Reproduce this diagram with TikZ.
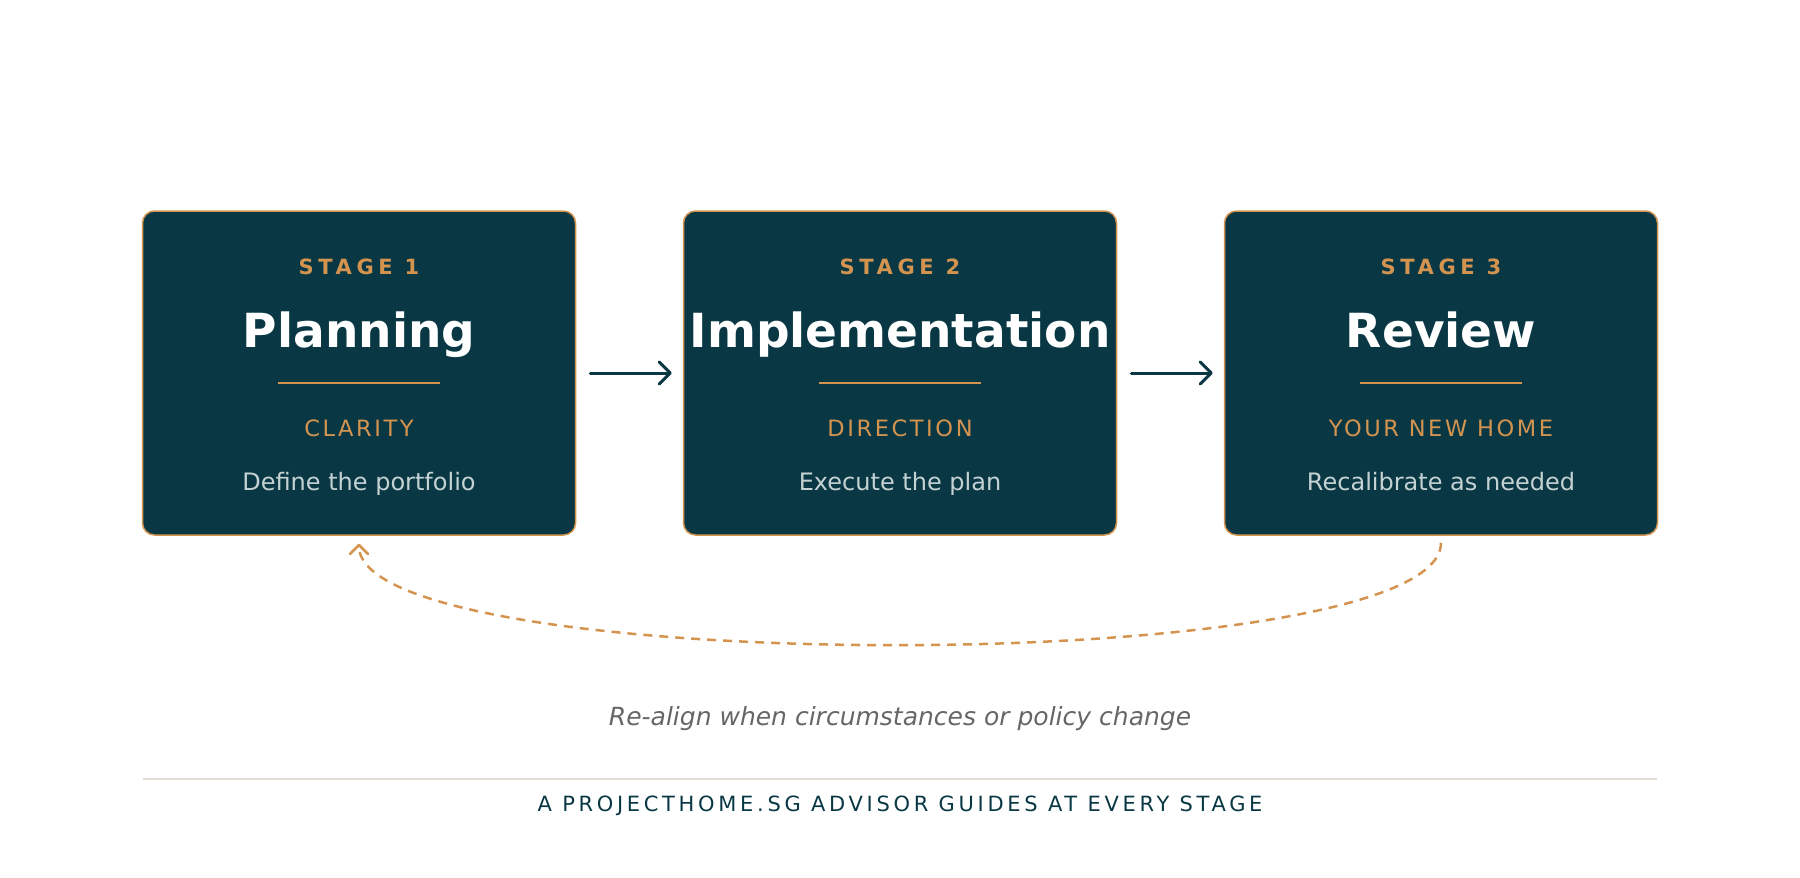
\documentclass[tikz,border=0pt]{standalone}
\usepackage{fontspec}
\setmainfont{DejaVu Sans}
\newfontfamily\stagefam[LetterSpace=22]{DejaVu Sans}
\newfontfamily\subfam[LetterSpace=11.5]{DejaVu Sans}
\newfontfamily\footfam[LetterSpace=17.5]{DejaVu Sans}
\usetikzlibrary{arrows.meta}
\definecolor{deepteal}{HTML}{093844}
\definecolor{accent}{HTML}{D49450}
\definecolor{desctext}{HTML}{C5D2D4}
\definecolor{notegrey}{HTML}{666666}
\definecolor{rulegrey}{HTML}{E2DED3}
\tikzset{
  stagebox/.style={draw=accent, line width=1.5pt, fill=deepteal, rounded corners=12pt,
    minimum width=433pt, minimum height=324pt, inner sep=0pt},
  stagelbl/.style={anchor=base, inner sep=0pt, text=accent,
    font=\stagefam\bfseries\fontsize{21}{25}\selectfont},
  titlelbl/.style={anchor=base, inner sep=0pt, text=white,
    font=\bfseries\fontsize{47}{56}\selectfont},
  sublbl/.style={anchor=base, inner sep=0pt, text=accent,
    font=\subfam\fontsize{22.5}{27}\selectfont},
  desclbl/.style={anchor=base, inner sep=0pt, text=desctext,
    font=\fontsize{24}{29}\selectfont},
  divider/.style={draw=accent, line width=2pt},
  flowarrow/.style={draw=deepteal, line width=3pt, line cap=round,
    -{Straight Barb[length=11pt, width=22pt, round]}},
  loopline/.style={draw=accent, line width=2.5pt, dash pattern=on 9pt off 7pt,
    -{Straight Barb[length=9pt, width=18pt, round]}},
  notelbl/.style={anchor=base, inner sep=0pt, text=notegrey,
    font=\itshape\fontsize{25}{30}\selectfont},
  footlbl/.style={anchor=base, inner sep=0pt, text=deepteal,
    font=\footfam\fontsize{21}{25}\selectfont},
}
\begin{document}
\begin{tikzpicture}[x=1pt, y=-1pt]
\useasboundingbox (0,0) rectangle (1800,878);

\foreach \i/\cx/\ttl/\sub/\desc in {
  1/359/Planning/CLARITY/Define the portfolio,
  2/900/Implementation/DIRECTION/Execute the plan,
  3/1441/Review/YOUR NEW HOME/Recalibrate as needed} {
  \node[stagebox] (box\i) at (\cx,373) {};
  \node[stagelbl] (stage\i) at (\cx,274.3) {STAGE \i};
  \node[titlelbl] (title\i) at (\cx,347.3) {\ttl};
  \draw[divider] (\cx-81,382.7) -- (\cx+81,382.7);
  \node[sublbl] (sub\i) at (\cx,436.5) {\sub};
  \node[desclbl] (desc\i) at (\cx,490.7) {\desc};
}

\draw[flowarrow, shorten <=14pt, shorten >=11pt] (box1) -- (box2);
\draw[flowarrow, shorten <=14pt, shorten >=11pt] (box2) -- (box3);

\draw[loopline] ([yshift=-7pt]box3.south) .. controls +(0,136) and +(0,135) .. ([yshift=-8pt]box1.south);

\node[notelbl] (note) at (900,725) {Re-align when circumstances or policy change};

\coordinate (ruleL) at (143,779);
\coordinate (ruleR) at (1657,779);
\draw[draw=rulegrey, line width=2pt] (ruleL) -- (ruleR);

\node[footlbl] (foot) at (900,811) {A PROJECTHOME.SG ADVISOR GUIDES AT EVERY STAGE};
\end{tikzpicture}
\end{document}
